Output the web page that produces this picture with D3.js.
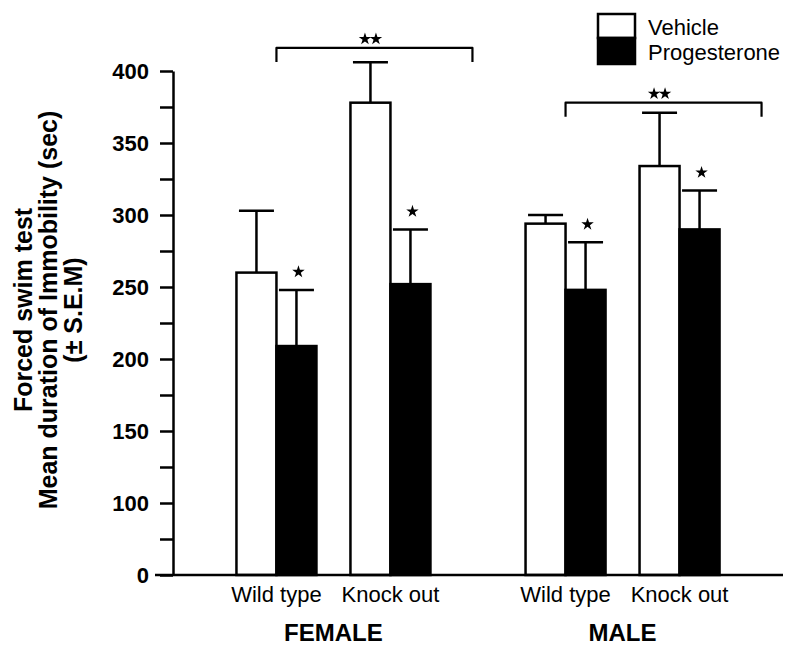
<!DOCTYPE html>
<html>
<head>
<meta charset="utf-8">
<script src="https://cdn.jsdelivr.net/npm/d3@7"></script>
<style>
  body { margin: 0; background: #fff; }
  text { font-family: "Liberation Sans", Arial, Helvetica, sans-serif; fill: #000; }
</style>
</head>
<body>
<script>
// data (order: female WT, female KO, male WT, male KO)
const sexes = ['FEMALE', 'MALE'];
const genotypes = ['Wild type', 'Knock out'];
const treatments = ['Vehicle', 'Progesterone'];
const groupSex = ['FEMALE', 'FEMALE', 'MALE', 'MALE'];
const groupGeno = ['Wild type', 'Knock out', 'Wild type', 'Knock out'];
const vehicleMean = [260, 378, 294, 334];
const vehicleSEM = [43, 28, 6, 37];
const progMean = [209, 252, 248, 290];
const progSEM = [39, 38, 33, 27];
const progSig = [true, true, true, true];
// ** brackets across genotypes, per sex
const bracketSex = ['FEMALE', 'MALE'];
const bracketLevel = [416, 378];

const yTicks = [0, 50, 100, 125, 150, 175, 200, 225, 250, 275, 300, 325, 350, 375, 400];
const yTickLabels = [0, 100, 150, 200, 250, 300, 350, 400];

const size = {w: 787, h: 646};
const axisX = 173, axisRight = 783;

const svg = d3.select('body').append('svg')
    .attr('width', size.w)
    .attr('height', size.h);

// broken axis: 0 -> 100 compressed
const y = d3.scaleLinear().domain([0, 100, 400]).range([575, 503, 71]);
const xSex = d3.scalePoint().domain(sexes).range([axisX, axisRight]).padding(0.555);
const xGeno = d3.scalePoint().domain(genotypes).range([-57, 57]);
const xTreat = d3.scaleBand().domain(treatments).range([-40, 40]);

const rows = [];
groupSex.forEach((s, i) => {
    rows.push({sex: s, geno: groupGeno[i], treat: 'Vehicle', mean: vehicleMean[i], sem: vehicleSEM[i], sig: false});
    rows.push({sex: s, geno: groupGeno[i], treat: 'Progesterone', mean: progMean[i], sem: progSEM[i], sig: progSig[i]});
});

const groupX = d => xSex(d.sex) + xGeno(d.geno);
const barX = d => groupX(d) + xTreat(d.treat);
const barC = d => barX(d) + xTreat.bandwidth() / 2;

//ERROR BARS (upper only)
const capW = 35;
const err = svg.append('g').attr('stroke', '#000').attr('stroke-width', 2.5);
err.selectAll('.stem')
    .data(rows)
    .join('line')
    .attr('x1', barC).attr('x2', barC)
    .attr('y1', d => y(d.mean)).attr('y2', d => y(d.mean + d.sem));
err.selectAll('.cap')
    .data(rows)
    .join('line')
    .attr('x1', d => barC(d) - capW / 2).attr('x2', d => barC(d) + capW / 2)
    .attr('y1', d => y(d.mean + d.sem)).attr('y2', d => y(d.mean + d.sem));

//BARS
svg.append('g').selectAll('rect')
    .data(rows)
    .join('rect')
    .attr('x', barX)
    .attr('y', d => y(d.mean))
    .attr('width', xTreat.bandwidth())
    .attr('height', d => y(0) - y(d.mean))
    .attr('fill', d => d.treat === 'Vehicle' ? '#fff' : '#000')
    .attr('stroke', '#000')
    .attr('stroke-width', 2.5);

//STARS
const star = d3.symbol().type(d3.symbolStar).size(48);
svg.append('g').selectAll('path')
    .data(rows.filter(d => d.sig))
    .join('path')
    .attr('d', star)
    .attr('transform', d => `translate(${barC(d) + 2}, ${y(d.mean + d.sem) - 18})`)
    .attr('fill', '#000');

//BRACKETS
const brG = svg.append('g');
bracketSex.forEach((s, i) => {
    const left = xSex(s) + xGeno('Wild type');
    const right = xSex(s) + xGeno('Knock out') + 82;
    const by = y(bracketLevel[i]);
    brG.append('path')
        .attr('d', `M${left},${by + 14}V${by}H${right}V${by + 14}`)
        .attr('fill', 'none')
        .attr('stroke', '#000')
        .attr('stroke-width', 2.2)
        .attr('stroke-linejoin', 'round');
    const sx = xSex(s) + xGeno('Knock out') + xTreat('Vehicle') + xTreat.bandwidth() / 2;
    [-5.5, 5.5].forEach(o => {
        brG.append('path')
            .attr('d', star)
            .attr('transform', `translate(${sx + o}, ${by - 9})`)
            .attr('fill', '#000');
    });
});

//AXES
const axisY = d3.axisLeft(y)
    .tickValues(yTicks)
    .tickFormat(d => yTickLabels.includes(d) ? d : '')
    .tickSize(13)
    .tickPadding(11)
    .tickSizeOuter(0);

const axG = svg.append('g')
    .attr('transform', `translate(${axisX}, 0)`)
    .call(axisY);
axG.selectAll('path, line').attr('stroke', '#000').attr('stroke-width', 2.5);
axG.selectAll('text')
    .style('font-size', '22px')
    .style('font-weight', 'bold')
    .attr('fill', '#000');

svg.append('line')
    .attr('x1', axisX - 18).attr('x2', axisRight)
    .attr('y1', y(0)).attr('y2', y(0))
    .attr('stroke', '#000').attr('stroke-width', 2.5);

// genotype labels
svg.append('g').selectAll('text')
    .data(groupSex.map((s, i) => ({sex: s, geno: groupGeno[i]})))
    .join('text')
    .attr('x', groupX)
    .attr('y', 602)
    .attr('text-anchor', 'middle')
    .style('font-size', '22px')
    .text(d => d.geno);

// sex labels
svg.append('g').selectAll('text')
    .data(sexes)
    .join('text')
    .attr('x', d => xSex(d))
    .attr('y', 641)
    .attr('text-anchor', 'middle')
    .style('font-size', '24px')
    .style('font-weight', 'bold')
    .text(d => d);

// y title
const title = svg.append('text')
    .attr('transform', 'translate(32, 310) rotate(-90)')
    .attr('text-anchor', 'middle')
    .style('font-size', '25px')
    .style('font-weight', 'bold');
['Forced swim test', 'Mean duration of Immobility (sec)', '(± S.E.M)'].forEach((t, i) => {
    title.append('tspan').attr('x', 0).attr('dy', i === 0 ? 0 : 25).text(t);
});

//LEGEND
const legend = svg.append('g').attr('transform', 'translate(598, 14)');
legend.selectAll('rect')
    .data(treatments)
    .join('rect')
    .attr('x', 0)
    .attr('y', (d, i) => i * 24)
    .attr('width', 37)
    .attr('height', (d, i) => i === 0 ? 24 : 26)
    .attr('fill', d => d === 'Vehicle' ? '#fff' : '#000')
    .attr('stroke', '#000')
    .attr('stroke-width', 2.5);
legend.selectAll('text')
    .data(treatments)
    .join('text')
    .attr('x', 50)
    .attr('y', (d, i) => 21 + i * 25)
    .style('font-size', '22px')
    .text(d => d);
</script>
</body>
</html>
